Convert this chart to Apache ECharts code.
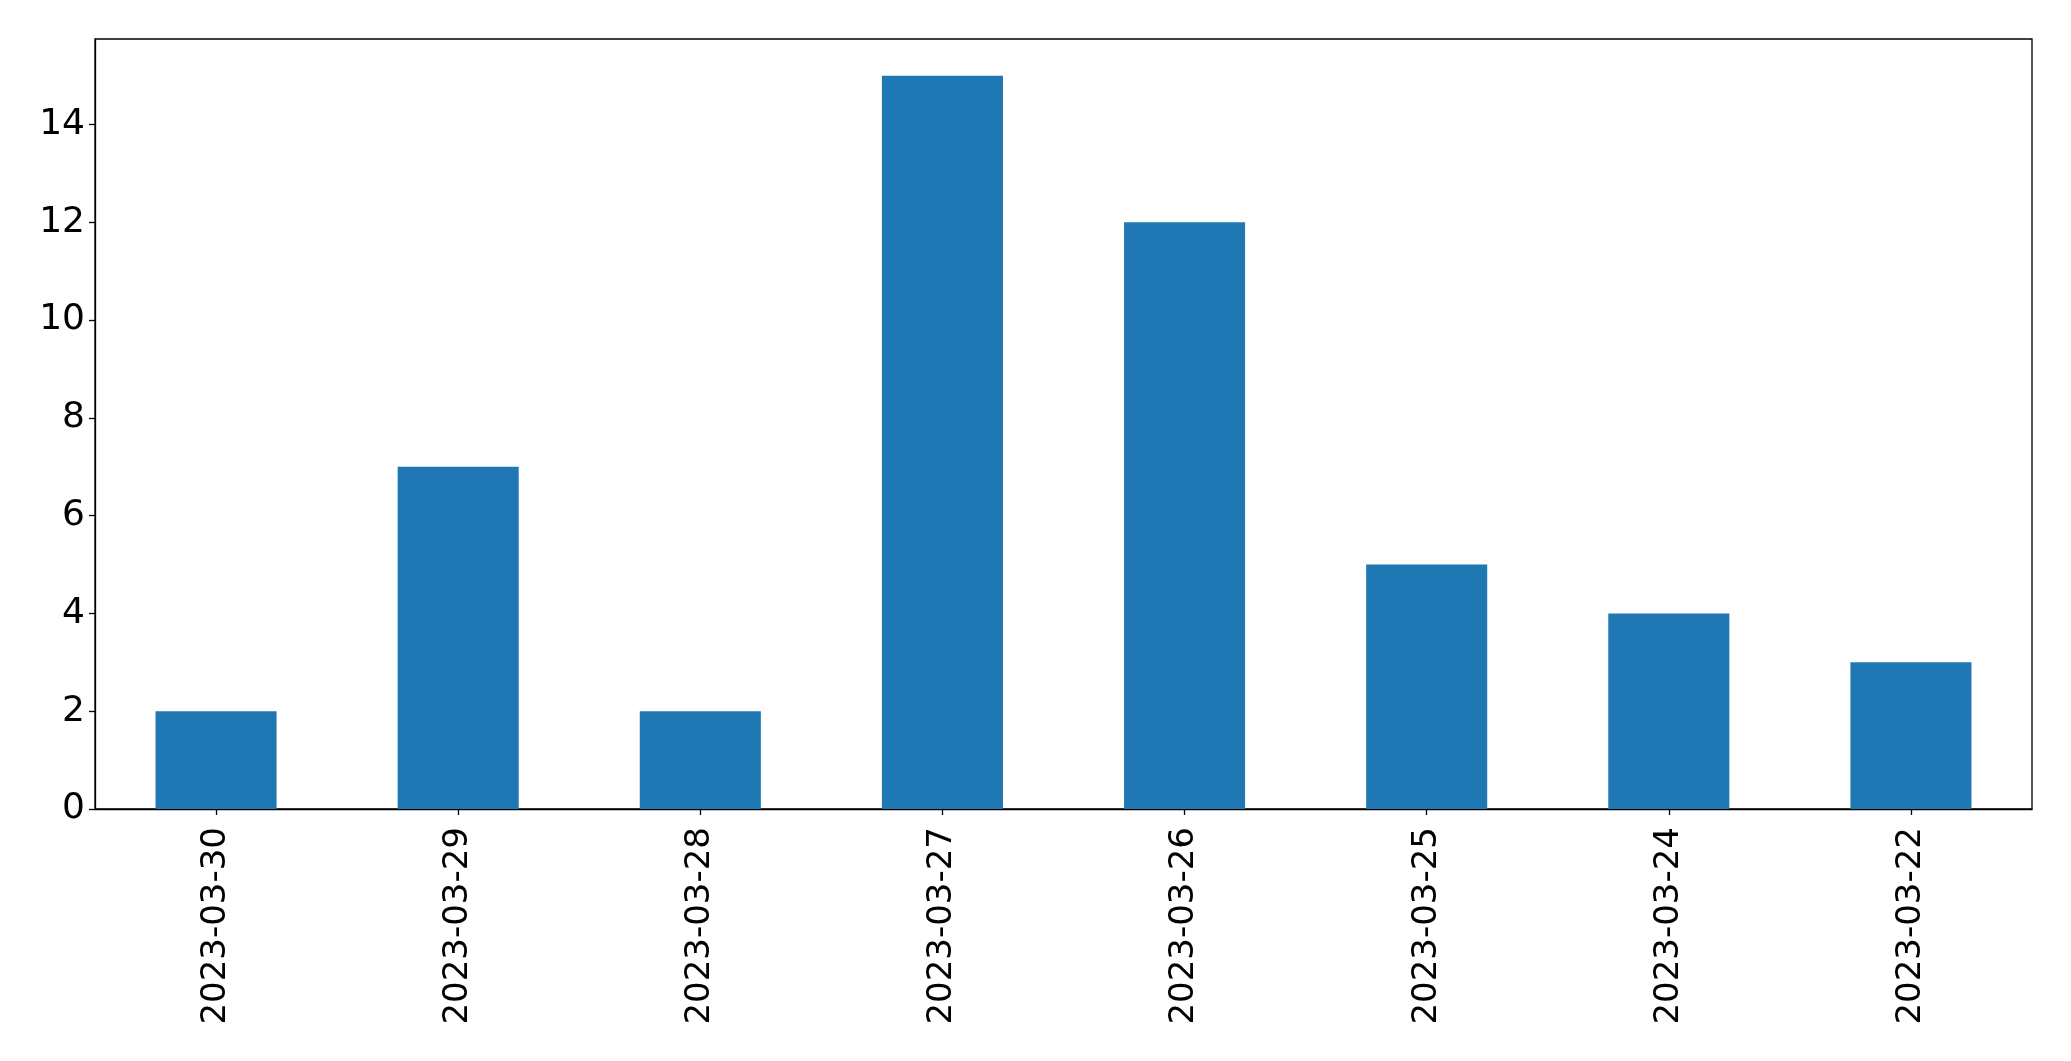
<!DOCTYPE html>
<html>
<head>
<meta charset="utf-8">
<script src="https://cdn.jsdelivr.net/npm/echarts@6/dist/echarts.min.js"></script>
<style>
html,body{margin:0;padding:0;background:#fff;}
#chart{width:2071px;height:1061px;}
</style>
</head>
<body>
<div id="chart"></div>
<script>
const categories = ['2023-03-30','2023-03-29','2023-03-28','2023-03-27','2023-03-26','2023-03-25','2023-03-24','2023-03-22'];
const values = [2, 7, 2, 15, 12, 5, 4, 3];
const yTicks = [0, 2, 4, 6, 8, 10, 12, 14];

const chart = echarts.init(document.getElementById('chart'), null, {renderer:'canvas'});
const font = 'DejaVu Sans';
chart.setOption({
  animation: false,
  backgroundColor: '#ffffff',
  grid: {left: 95, top: 39, right: 39, bottom: 252, show: true, borderColor: '#000', borderWidth: 1.3, backgroundColor: 'transparent'},
  xAxis: {
    type: 'category',
    data: categories,
    axisLine: {show: true, lineStyle: {color: '#000', width: 1.3}},
    axisTick: {show: true, alignWithLabel: true, length: 6, lineStyle: {color: '#000', width: 1.3}},
    axisLabel: {rotate: 90, margin: 18, color: '#000', fontFamily: font, fontSize: 34, interval: 0},
    splitLine: {show: false}
  },
  yAxis: {
    type: 'value',
    min: 0,
    max: 15.75,
    interval: 2,
    axisLine: {show: true, lineStyle: {color: '#000', width: 1.3}},
    axisTick: {show: true, length: 6, customValues: yTicks, lineStyle: {color: '#000', width: 1.3}},
    axisLabel: {margin: 10, color: '#000', fontFamily: font, fontSize: 36, customValues: yTicks},
    splitLine: {show: false}
  },
  series: [{
    type: 'bar',
    data: values,
    barWidth: '50%',
    itemStyle: {color: '#1f77b4'}
  }]
});
</script>
</body>
</html>
